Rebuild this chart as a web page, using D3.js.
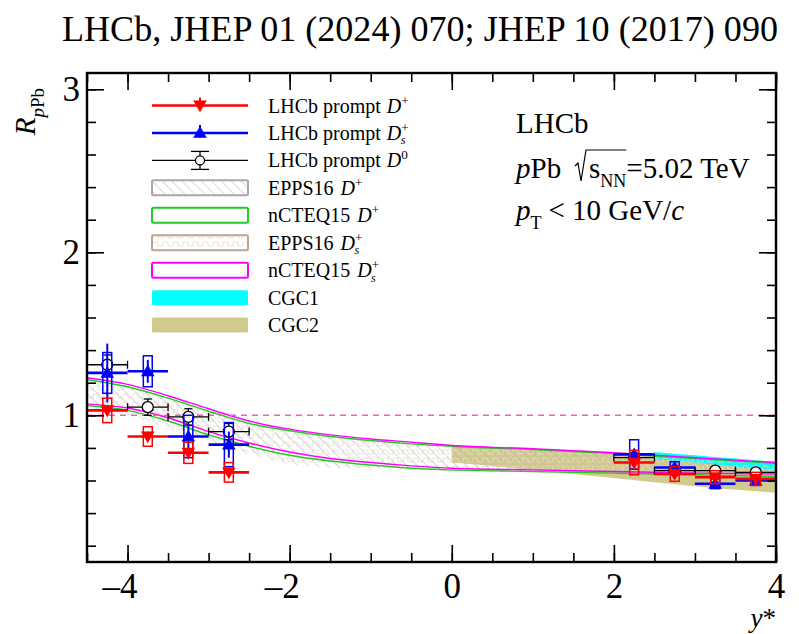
<!DOCTYPE html>
<html>
<head>
<meta charset="utf-8">
<script src="https://cdn.jsdelivr.net/npm/d3@7"></script>
<style>
  body { margin: 0; background: #fff; }
  svg { display: block; font-family: "Liberation Serif", "Times New Roman", serif; }
</style>
</head>
<body>
<div id="container"></div>
<script>
// ---- data ----
const yStar = [-4.25, -3.75, -3.25, -2.75, 2.25, 2.75, 3.25, 3.75];
const binHalf = 0.25;

// LHCb prompt D+ (2024)
const dplusVal  = [1.03, 0.87, 0.77, 0.65, 0.71, 0.64, 0.62, 0.61];
const dplusStat = [0.03, 0.03, 0.03, 0.03, 0.02, 0.02, 0.02, 0.02];
const dplusSyst = [0.075, 0.06, 0.065, 0.06, 0.075, 0.045, 0.04, 0.04];

// LHCb prompt Ds+ (2024)
const dsVal  = [1.26, 1.27, 0.87, 0.82, 0.76, 0.68, 0.58, 0.60];
const dsStat = [0.18, 0.07, 0.08, 0.08, 0.03, 0.02, 0.02, 0.02];
const dsSyst = [0.125, 0.095, 0.13, 0.135, 0.09, 0.035, 0.03, 0.03];

// LHCb prompt D0 (2017)
const d0Val = [1.31, 1.05, 0.99, 0.90, 0.74, 0.66, 0.66, 0.65];
const d0Err = [0.06, 0.05, 0.05, 0.05, 0.02, 0.02, 0.02, 0.02];

// theory bands
const thY = [-4.5, -4, -3.5, -3, -2.5, -2, -1.5, -1, -0.5, 0, 1, 2, 3, 4];
const eppsDpHi = [1.22, 1.18, 1.11, 1.035, 0.96, 0.91, 0.875, 0.85, 0.83, 0.81, 0.79, 0.765, 0.735, 0.705];
const eppsDpLo = [1.06, 1.00, 0.92, 0.84, 0.76, 0.70, 0.68, 0.67, 0.665, 0.66, 0.65, 0.64, 0.63, 0.625];
const eppsDsHi = [1.23, 1.19, 1.12, 1.04, 0.965, 0.915, 0.88, 0.855, 0.835, 0.815, 0.795, 0.77, 0.74, 0.71];
const eppsDsLo = [1.07, 1.01, 0.93, 0.85, 0.77, 0.71, 0.69, 0.68, 0.67, 0.665, 0.655, 0.645, 0.635, 0.63];
const nctDpHi = [1.22, 1.175, 1.105, 1.025, 0.95, 0.905, 0.87, 0.845, 0.825, 0.81, 0.79, 0.765, 0.735, 0.705];
const nctDpLo = [1.06, 1.03, 0.965, 0.88, 0.81, 0.755, 0.72, 0.695, 0.675, 0.665, 0.655, 0.645, 0.635, 0.625];
const nctDsHi = [1.23, 1.19, 1.12, 1.04, 0.965, 0.915, 0.88, 0.855, 0.835, 0.815, 0.795, 0.77, 0.74, 0.71];
const nctDsLo = [1.07, 1.045, 0.985, 0.90, 0.83, 0.775, 0.735, 0.71, 0.69, 0.675, 0.665, 0.655, 0.645, 0.64];

const cgc2Y  = [0, 1, 2, 3, 4];
const cgc2Hi = [0.815, 0.795, 0.775, 0.74, 0.70];
const cgc2Lo = [0.71, 0.665, 0.615, 0.565, 0.525];

const cgc1Y  = [2.5, 3, 3.5, 4];
const cgc1Hi = [0.775, 0.755, 0.735, 0.715];
const cgc1Lo = [0.73, 0.71, 0.685, 0.66];

const xMajor = [-4, -2, 0, 2, 4];
const yMajor = [1, 2, 3];

// ---- layout ----
const W = 799, H = 634;
const L = 87, R = 776, T = 73, B = 562;
const RED = '#ff0000', BLUE = '#0000ff', GREEN = '#22cc22', MAG = '#ff00ff';
const CYAN = '#00ffff', KHAKI = '#d2ca8c';
const SERIF = '"Liberation Serif", "Times New Roman", serif';

const svg = d3.select('#container').append('svg').attr('width', W).attr('height', H);
const defs = svg.append('defs');

const hatch = defs.append('pattern').attr('id', 'hatchGray').attr('patternUnits', 'userSpaceOnUse')
  .attr('width', 7).attr('height', 7).attr('patternTransform', 'rotate(-45)');
hatch.append('line').attr('x1', 0).attr('y1', 0).attr('x2', 0).attr('y2', 7)
  .attr('stroke', '#b5b5b5').attr('stroke-width', 1);

const zig = defs.append('pattern').attr('id', 'zigTan').attr('patternUnits', 'userSpaceOnUse')
  .attr('width', 10).attr('height', 8);
zig.append('path').attr('d', 'M0,6 L3,6 L3,2 L8,2 L8,6 L10,6').attr('fill', 'none')
  .attr('stroke', '#e6dccf').attr('stroke-width', 0.8);

const x = d3.scaleLinear().domain([-4.5, 4]).range([L, R]);
const y = d3.scaleLinear().domain([0.1, 3.1]).range([B, T]);

const plot = svg.append('g');
plot.append('clipPath').attr('id', 'clip').append('rect')
  .attr('x', L).attr('y', T).attr('width', R - L).attr('height', B - T);
const inner = plot.append('g').attr('clip-path', 'url(#clip)');

function band(xs, lo, hi) {
  return d3.area().x((d, i) => x(xs[i])).y0((d, i) => y(lo[i])).y1((d, i) => y(hi[i]))
    .curve(d3.curveMonotoneX)(xs);
}

// CGC bands
inner.append('path').attr('d', band(cgc2Y, cgc2Lo, cgc2Hi)).attr('fill', KHAKI);
inner.append('path').attr('d', band(cgc1Y, cgc1Lo, cgc1Hi)).attr('fill', CYAN);
// EPPS16 bands
inner.append('path').attr('d', band(thY, eppsDsLo, eppsDsHi)).attr('fill', 'url(#zigTan)');
inner.append('path').attr('d', band(thY, eppsDpLo, eppsDpHi)).attr('fill', 'url(#hatchGray)');
// nCTEQ15 outlines
inner.append('path').attr('d', band(thY, nctDpLo, nctDpHi)).attr('fill', 'none')
  .attr('stroke', GREEN).attr('stroke-width', 1.4);
inner.append('path').attr('d', band(thY, nctDsLo, nctDsHi)).attr('fill', 'none')
  .attr('stroke', MAG).attr('stroke-width', 1.4);

// reference line at 1
inner.append('line').attr('x1', x(-4.5)).attr('x2', x(4)).attr('y1', y(1)).attr('y2', y(1))
  .attr('stroke', '#f060c0').attr('stroke-width', 1.5).attr('stroke-dasharray', '6,5');

// ---- data points ----
const boxHalf = 0.055;
function drawSeries(vals, stat, syst, color, symType, rot) {
  const g = inner.append('g');
  yStar.forEach((ys, i) => {
    g.append('line').attr('x1', x(ys - binHalf)).attr('x2', x(ys + binHalf))
      .attr('y1', y(vals[i])).attr('y2', y(vals[i])).attr('stroke', color).attr('stroke-width', 2.6);
    g.append('rect').attr('x', x(ys - boxHalf)).attr('width', x(ys + boxHalf) - x(ys - boxHalf))
      .attr('y', y(vals[i] + syst[i])).attr('height', y(vals[i] - syst[i]) - y(vals[i] + syst[i]))
      .attr('fill', 'none').attr('stroke', color).attr('stroke-width', 1.5);
    g.append('line').attr('x1', x(ys)).attr('x2', x(ys))
      .attr('y1', y(vals[i] + stat[i])).attr('y2', y(vals[i] - stat[i]))
      .attr('stroke', color).attr('stroke-width', 2);
    g.append('path').attr('d', d3.symbol(symType, 80)())
      .attr('transform', `translate(${x(ys)},${y(vals[i]) + (rot ? -1 : 1)}) rotate(${rot})`)
      .attr('fill', color);
  });
}

// D0 first (behind)
const g0 = inner.append('g').attr('stroke', '#000').attr('stroke-width', 1.3);
yStar.forEach((ys, i) => {
  const cy = y(d0Val[i]), cx = x(ys);
  g0.append('line').attr('x1', x(ys - binHalf)).attr('x2', x(ys + binHalf)).attr('y1', cy).attr('y2', cy);
  [ys - binHalf, ys + binHalf].forEach(e => g0.append('line').attr('x1', x(e)).attr('x2', x(e))
    .attr('y1', cy - 4).attr('y2', cy + 4));
  const top = y(d0Val[i] + d0Err[i]), bot = y(d0Val[i] - d0Err[i]);
  g0.append('line').attr('x1', cx).attr('x2', cx).attr('y1', top).attr('y2', bot);
  g0.append('line').attr('x1', cx - 4).attr('x2', cx + 4).attr('y1', top).attr('y2', top);
  g0.append('line').attr('x1', cx - 4).attr('x2', cx + 4).attr('y1', bot).attr('y2', bot);
  g0.append('circle').attr('cx', cx).attr('cy', cy).attr('r', 5.5).attr('fill', '#fff');
});
drawSeries(dsVal, dsStat, dsSyst, BLUE, d3.symbolTriangle, 0);
drawSeries(dplusVal, dplusStat, dplusSyst, RED, d3.symbolTriangle, 180);

// ---- axes ----
const fmt = d => d < 0 ? '\u2013' + (-d) : String(d);
const axG = svg.append('g');
function styleAxis(g) { g.select('.domain').remove(); g.selectAll('line').attr('stroke', '#000').attr('stroke-width', 1.6); }
function styleLabels(g) {
  g.selectAll('text').attr('font-size', 35).attr('font-family', SERIF).attr('fill', '#000');
}

axG.append('g').attr('transform', `translate(0,${B})`)
  .call(d3.axisBottom(x).tickValues(xMajor).tickSize(-17).tickPadding(11).tickFormat(fmt))
  .call(styleAxis).call(styleLabels)
  .call(g => g.selectAll('text').attr('dx', d => d < 0 ? -8 : 0));
axG.append('g').attr('transform', `translate(0,${B})`)
  .call(d3.axisBottom(x).tickValues(d3.range(-4.5, 4.01, 0.5)).tickSize(-9).tickFormat(''))
  .call(styleAxis);
axG.append('g').attr('transform', `translate(0,${T})`)
  .call(d3.axisTop(x).tickValues(xMajor).tickSize(-17).tickFormat('')).call(styleAxis);
axG.append('g').attr('transform', `translate(0,${T})`)
  .call(d3.axisTop(x).tickValues(d3.range(-4.5, 4.01, 0.5)).tickSize(-9).tickFormat('')).call(styleAxis);

axG.append('g').attr('transform', `translate(${L},0)`)
  .call(d3.axisLeft(y).tickValues(yMajor).tickSize(-17).tickPadding(7).tickFormat(d3.format('d')))
  .call(styleAxis).call(styleLabels);
axG.append('g').attr('transform', `translate(${L},0)`)
  .call(d3.axisLeft(y).tickValues(d3.range(0.2, 3.01, 0.2)).tickSize(-9).tickFormat('')).call(styleAxis);
axG.append('g').attr('transform', `translate(${R},0)`)
  .call(d3.axisRight(y).tickValues(yMajor).tickSize(-17).tickFormat('')).call(styleAxis);
axG.append('g').attr('transform', `translate(${R},0)`)
  .call(d3.axisRight(y).tickValues(d3.range(0.2, 3.01, 0.2)).tickSize(-9).tickFormat('')).call(styleAxis);

svg.append('rect').attr('x', L).attr('y', T).attr('width', R - L).attr('height', B - T)
  .attr('fill', 'none').attr('stroke', '#000').attr('stroke-width', 2.4);

// ---- text helper ----
function rich(parent, px, py, parts, size, anchor) {
  const t = parent.append('text').attr('x', px).attr('y', py).attr('font-size', size)
    .attr('font-family', SERIF).attr('fill', '#000');
  if (anchor) t.attr('text-anchor', anchor);
  let shift = 0;
  parts.forEach(p => {
    const target = p.sup ? -0.4 * size : p.sub ? (p.low || 0.3) * size : 0;
    const ts = t.append('tspan').text(p.t).attr('dy', target - shift);
    shift = target;
    if (p.i) ts.attr('font-style', 'italic');
    if (p.sup || p.sub) ts.attr('font-size', p.size || size * 0.66);
    if (p.dx) ts.attr('dx', p.dx);
  });
  return t;
}

// title
svg.append('text').attr('x', 62).attr('y', 41).attr('font-size', 36).attr('font-family', SERIF)
  .attr('textLength', 716).attr('lengthAdjust', 'spacingAndGlyphs')
  .text('LHCb, JHEP 01 (2024) 070; JHEP 10 (2017) 090');

// axis titles
const yt = svg.append('g').attr('transform', 'translate(35,88) rotate(-90)');
rich(yt, 0, 0, [{ t: 'R', i: true }, { t: 'p', sub: true, i: true, size: 19 }, { t: 'Pb', sub: true, size: 19 }], 29, 'end');
rich(svg, R, 627, [{ t: 'y', i: true }, { t: '*' }], 27, 'end');

// ---- legend ----
const lx0 = 152, lx1 = 248, lmid = 200, ltx = 268, ly0 = 105.5, ldy = 27.45, lfs = 20;
const leg = svg.append('g');
const rowY = i => ly0 + i * ldy;

// D+
leg.append('line').attr('x1', lx0).attr('x2', lx1).attr('y1', rowY(0)).attr('y2', rowY(0)).attr('stroke', RED).attr('stroke-width', 2.4);
leg.append('line').attr('x1', lmid).attr('x2', lmid).attr('y1', rowY(0) - 8).attr('y2', rowY(0) + 5).attr('stroke', RED).attr('stroke-width', 2);
leg.append('path').attr('d', d3.symbol(d3.symbolTriangle, 80)()).attr('transform', `translate(${lmid},${rowY(0) - 1}) rotate(180)`).attr('fill', RED);
// Ds+
leg.append('line').attr('x1', lx0).attr('x2', lx1).attr('y1', rowY(1)).attr('y2', rowY(1)).attr('stroke', BLUE).attr('stroke-width', 2.4);
leg.append('line').attr('x1', lmid).attr('x2', lmid).attr('y1', rowY(1) - 8).attr('y2', rowY(1) + 5).attr('stroke', BLUE).attr('stroke-width', 2);
leg.append('path').attr('d', d3.symbol(d3.symbolTriangle, 80)()).attr('transform', `translate(${lmid},${rowY(1) + 1})`).attr('fill', BLUE);
// D0
const l0 = leg.append('g').attr('stroke', '#000').attr('stroke-width', 1.3);
l0.append('line').attr('x1', lx0).attr('x2', lx1).attr('y1', rowY(2)).attr('y2', rowY(2));
l0.append('line').attr('x1', lmid).attr('x2', lmid).attr('y1', rowY(2) - 9).attr('y2', rowY(2) + 9);
l0.append('line').attr('x1', lmid - 9).attr('x2', lmid + 9).attr('y1', rowY(2) - 9).attr('y2', rowY(2) - 9);
l0.append('line').attr('x1', lmid - 9).attr('x2', lmid + 9).attr('y1', rowY(2) + 9).attr('y2', rowY(2) + 9);
l0.append('circle').attr('cx', lmid).attr('cy', rowY(2)).attr('r', 4.5).attr('fill', '#fff');

const boxes = [
  { fill: 'url(#hatchGray)', stroke: '#a8a8a8' },
  { fill: 'none', stroke: GREEN },
  { fill: 'url(#zigTan)', stroke: '#c0a58e' },
  { fill: 'none', stroke: MAG },
  { fill: CYAN, stroke: 'none' },
  { fill: KHAKI, stroke: 'none' }
];
boxes.forEach((b, k) => {
  const cy = rowY(k + 3);
  leg.append('rect').attr('x', lx0).attr('y', cy - 7.5).attr('width', lx1 - lx0).attr('height', 15)
    .attr('rx', 1.5).attr('fill', b.fill).attr('stroke', b.stroke).attr('stroke-width', 2);
});

const sSub = { t: 's', sub: true, i: true, dx: -8, low: 0.22, size: 12 };
const labels = [
  [{ t: 'LHCb prompt' }, { t: 'D', i: true, dx: 6 }, { t: '+', sup: true }],
  [{ t: 'LHCb prompt' }, { t: 'D', i: true, dx: 6 }, { t: '+', sup: true }, sSub],
  [{ t: 'LHCb prompt' }, { t: 'D', i: true, dx: 6 }, { t: '0', sup: true }],
  [{ t: 'EPPS16' }, { t: 'D', i: true, dx: 7 }, { t: '+', sup: true }],
  [{ t: 'nCTEQ15' }, { t: 'D', i: true, dx: 7 }, { t: '+', sup: true }],
  [{ t: 'EPPS16' }, { t: 'D', i: true, dx: 7 }, { t: '+', sup: true }, sSub],
  [{ t: 'nCTEQ15' }, { t: 'D', i: true, dx: 7 }, { t: '+', sup: true }, sSub],
  [{ t: 'CGC1' }],
  [{ t: 'CGC2' }]
];
labels.forEach((p, k) => rich(leg, ltx, rowY(k) + 7, p, lfs));

// ---- info text ----
const info = svg.append('g');
rich(info, 516, 133, [{ t: 'LHCb' }], 29);
rich(info, 516, 178, [{ t: 'p', i: true }, { t: 'Pb' }], 29);
const t3 = rich(info, 589, 178, [{ t: 's' }, { t: 'NN', sub: true, size: 18 }, { t: '=5.02 TeV' }], 29);
// radical sign drawn as lines, overline up to the end of the NN subscript
const nnEnd = t3.node().getEndPositionOfChar(2).x;
info.append('path')
  .attr('d', `M575,166 L578,163 L581,181 L586,150 L${nnEnd},150`)
  .attr('fill', 'none').attr('stroke', '#000').attr('stroke-width', 1.2);
rich(info, 516, 220, [{ t: 'p', i: true }, { t: 'T', sub: true, size: 18 }, { t: '< 10 GeV/', dx: 7 }, { t: 'c', i: true }], 29);
</script>
</body>
</html>
